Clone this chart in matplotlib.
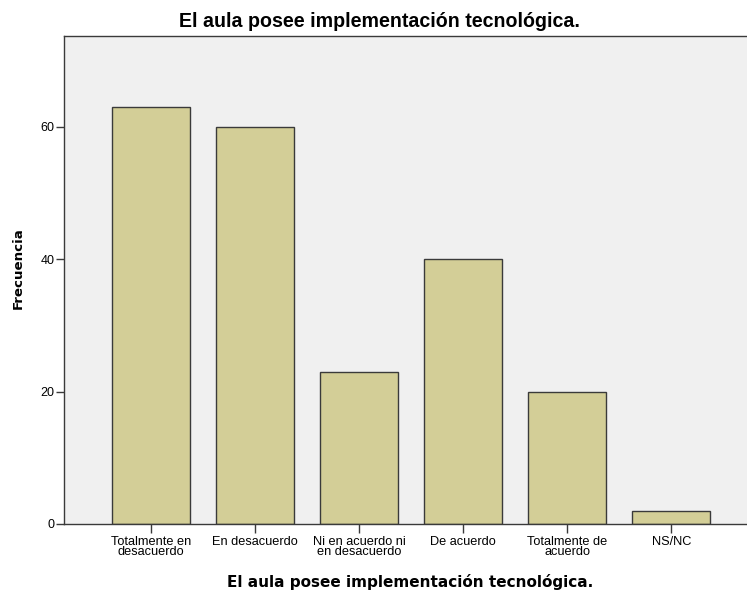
import matplotlib
matplotlib.use("Agg")
import matplotlib.pyplot as plt

categories = ["Totalmente en\ndesacuerdo", "En desacuerdo", "Ni en acuerdo ni\nen desacuerdo",
              "De acuerdo", "Totalmente de\nacuerdo", "NS/NC"]
values = [63, 60, 23, 40, 20, 2]
yticks = [0, 20, 40, 60]
title = "El aula posee implementación tecnológica."
xlabel = "El aula posee implementación tecnológica."
ylabel = "Frecuencia"

W, H = 747, 598
fig = plt.figure(figsize=(W/100, H/100), dpi=100)
ax = fig.add_axes([64/W, 1-524/H, 1-64/W + 0.002, (524-36)/H])
ax.set_facecolor("#F0F0F0")
x = list(range(len(categories)))
ax.bar(x, values, width=0.75, color="#D3CE97", edgecolor="#3A3A3A", linewidth=1.0, zorder=2)
ax.set_xlim(-0.832, 5.74)
ax.set_ylim(0, 73.75)
ax.set_yticks(yticks)
ax.set_xticks(x)
ax.set_xticklabels(categories, fontsize=9.2, family="Liberation Sans", linespacing=0.8)
ax.tick_params(axis="y", labelsize=9, length=5.8, width=1, color="#3A3A3A", pad=1)
ax.tick_params(axis="x", length=6.3, width=1, color="#3A3A3A", pad=2.5)
for lab in ax.get_yticklabels():
    lab.set_family("Liberation Sans")
for s in ["left", "top", "bottom"]:
    ax.spines[s].set_color("#3A3A3A")
    ax.spines[s].set_linewidth(1.0)
ax.spines["right"].set_visible(False)
fig.text(379.5/W, 1-27/H, title, fontsize=14.1, fontweight="bold", family="Liberation Sans",
         ha="center", va="baseline")
fig.text(410/W, 1-587/H, xlabel, fontsize=11, fontweight="bold", family="DejaVu Sans",
         ha="center", va="baseline")
fig.text(18/W, 1-268/H, ylabel, fontsize=9.6, fontweight="bold", family="DejaVu Sans",
         ha="center", va="center", rotation=90)
fig.savefig("out.png", dpi=100)
